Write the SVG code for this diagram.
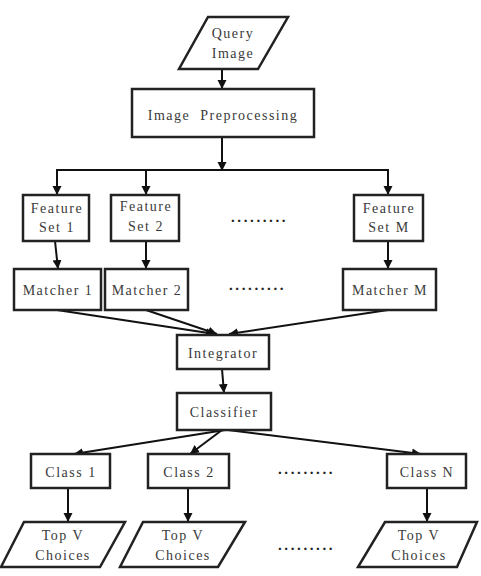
<svg xmlns="http://www.w3.org/2000/svg" width="481" height="576" viewBox="0 0 481 576">
<defs>
<marker id="ah" viewBox="0 0 10 10" refX="10" refY="5" markerWidth="9" markerHeight="10" markerUnits="userSpaceOnUse" orient="auto">
<path d="M0,0 L10,5 L0,10 z" fill="#111"/>
</marker>
</defs>
<style>
.box{fill:#fff;stroke:#222;stroke-width:2.5}
.t{font-family:"Liberation Serif","Times New Roman",serif;font-size:14px;fill:#3a3a3a;letter-spacing:1.5px;text-anchor:middle;dominant-baseline:central}
.c{stroke:#111;stroke-width:2;fill:none}
.a{stroke:#111;stroke-width:2;fill:none;marker-end:url(#ah)}
.dots{font-family:"Liberation Serif",serif;font-size:15px;font-weight:bold;fill:#222;letter-spacing:2.6px}
</style>
<rect width="481" height="576" fill="#fff"/>
<g id="connectors">
<line class="a" x1="222" y1="69" x2="222" y2="89"/>
<line class="a" x1="222" y1="137" x2="222" y2="171"/>
<line class="c" x1="56" y1="170" x2="389" y2="170"/>
<line class="a" x1="57" y1="170" x2="57" y2="195"/>
<line class="a" x1="146" y1="170" x2="146" y2="195"/>
<line class="a" x1="388" y1="170" x2="388" y2="195"/>
<line class="a" x1="55" y1="241" x2="58" y2="269"/>
<line class="a" x1="146" y1="241" x2="146" y2="269"/>
<line class="a" x1="388" y1="241" x2="388" y2="269"/>
<line class="a" x1="57" y1="310" x2="215" y2="334"/>
<line class="a" x1="146" y1="310" x2="217" y2="334"/>
<line class="a" x1="388" y1="310" x2="229" y2="334"/>
<line class="a" x1="222" y1="369" x2="224" y2="393"/>
<line class="a" x1="225" y1="430" x2="74" y2="454"/>
<line class="a" x1="222" y1="430" x2="190" y2="454"/>
<line class="a" x1="228" y1="430" x2="421" y2="454"/>
<line class="a" x1="68" y1="488" x2="68" y2="522"/>
<line class="a" x1="188" y1="488" x2="188" y2="522"/>
<line class="a" x1="427" y1="488" x2="427" y2="522"/>
</g>
<g id="query">
<polygon class="box" points="208,17 288,17 258,69 179,69"/>
<text class="t" x="233" y="33">Query</text>
<text class="t" x="233" y="53">Image</text>
</g>
<g id="preprocessing">
<rect class="box" x="132" y="89" width="182" height="48"/>
<text class="t" x="223" y="115" style="word-spacing:5px">Image Preprocessing</text>
</g>
<g id="feature1">
<rect class="box" x="23" y="195" width="66" height="46"/>
<text class="t" x="57" y="208">Feature</text>
<text class="t" x="57" y="227">Set 1</text>
</g>
<g id="feature2">
<rect class="box" x="111" y="195" width="68" height="46"/>
<text class="t" x="146" y="206">Feature</text>
<text class="t" x="146" y="226">Set 2</text>
</g>
<g id="featureM">
<rect class="box" x="354" y="195" width="69" height="46"/>
<text class="t" x="389" y="208">Feature</text>
<text class="t" x="389" y="227">Set M</text>
</g>
<text class="dots" x="231" y="222">.........</text>
<g id="matcher1">
<rect class="box" x="14" y="269" width="87" height="41"/>
<text class="t" x="58" y="290">Matcher 1</text>
</g>
<g id="matcher2">
<rect class="box" x="105" y="269" width="83" height="41"/>
<text class="t" x="147" y="290">Matcher 2</text>
</g>
<g id="matcherM">
<rect class="box" x="343" y="269" width="93" height="41"/>
<text class="t" x="390" y="290">Matcher M</text>
</g>
<text class="dots" x="229" y="290">.........</text>
<g id="integrator">
<rect class="box" x="177" y="335" width="92" height="34"/>
<text class="t" x="223" y="353">Integrator</text>
</g>
<g id="classifier">
<rect class="box" x="177" y="393" width="94" height="37"/>
<text class="t" x="224" y="412">Classifier</text>
</g>
<g id="class1">
<rect class="box" x="31" y="454" width="79" height="34"/>
<text class="t" x="71" y="472">Class 1</text>
</g>
<g id="class2">
<rect class="box" x="148" y="454" width="81" height="34"/>
<text class="t" x="189" y="472">Class 2</text>
</g>
<g id="classN">
<rect class="box" x="387" y="454" width="79" height="34"/>
<text class="t" x="427" y="472">Class N</text>
</g>
<text class="dots" x="278" y="474">.........</text>
<g id="top1">
<polygon class="box" points="24,522 125,522 100,567 1,567"/>
<text class="t" x="63" y="535">Top V</text>
<text class="t" x="63" y="555">Choices</text>
</g>
<g id="top2">
<polygon class="box" points="143,522 245,522 218,567 120,567"/>
<text class="t" x="183" y="535">Top V</text>
<text class="t" x="183" y="555">Choices</text>
</g>
<g id="topN">
<polygon class="box" points="385,522 477,522 457,567 358,567"/>
<text class="t" x="419" y="535">Top V</text>
<text class="t" x="419" y="555">Choices</text>
</g>
<text class="dots" x="278" y="550">.........</text>
</svg>
